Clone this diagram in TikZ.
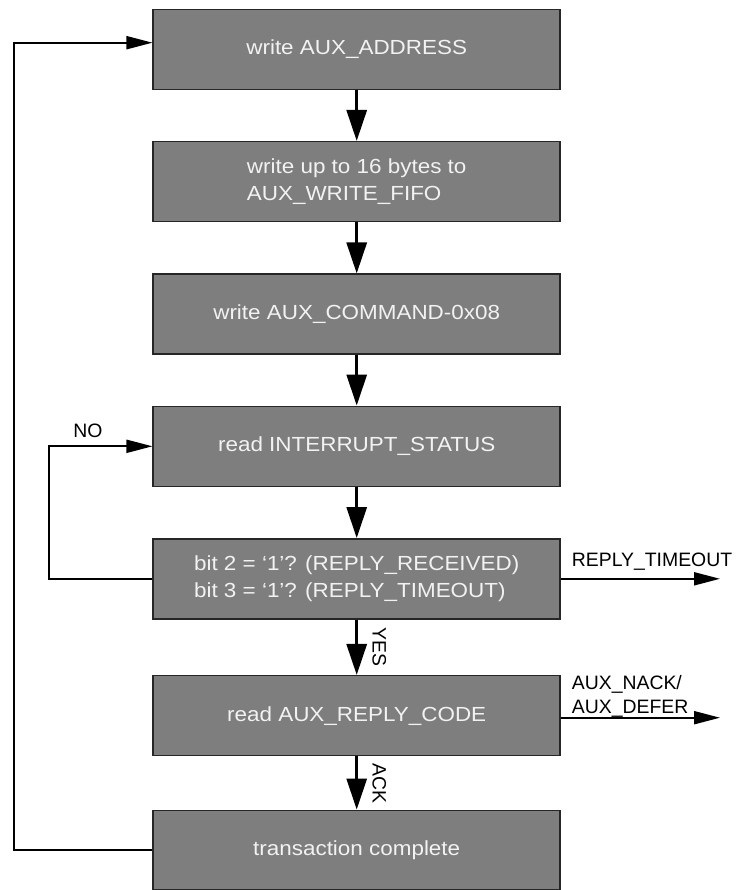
\documentclass[tikz,border=0pt]{standalone}
\usepackage{fontspec}
\setmainfont{Liberation Sans}
\newfontfamily\boxfont[FakeStretch=1.1]{Liberation Sans}
\usetikzlibrary{arrows.meta}
\definecolor{boxgrey}{RGB}{125,126,125}
\definecolor{boxedge}{RGB}{38,38,38}
\definecolor{boxtext}{RGB}{242,242,242}
\begin{document}
\begin{tikzpicture}[x=1pt,y=1pt]
\tikzstyle{every node}+=[inner sep=0pt]
\tikzstyle{stepbox}=[draw=boxedge, fill=boxgrey, line width=1.5pt, minimum width=407pt, minimum height=80pt, text=boxtext, align=left, font=\boxfont\fontsize{20.4}{26.7}\selectfont]
\tikzstyle{lbl}=[font=\fontsize{19.4}{24}\selectfont]
\tikzstyle{flow}=[black, line width=3pt, -{Triangle[length=31pt,width=20pt]}]
\tikzstyle{side}=[black, line width=2pt, -{Triangle[length=26pt,width=13pt]}]
\useasboundingbox (0,0) rectangle (736,-890);
\node [stepbox] (addr) at (356.7,-49.3) {write AUX\_ADDRESS};
\node [stepbox] (fifo) at (356.7,-181.7) {write up to 16 bytes to\\AUX\_WRITE\_FIFO};
\node [stepbox] (cmd) at (356.7,-314.2) {write AUX\_COMMAND-0x08};
\node [stepbox] (irq) at (356.7,-446.3) {read INTERRUPT\_STATUS};
\node [stepbox] (check) at (356.7,-578.8) {bit 2 = ‘1’? (REPLY\_RECEIVED)\\bit 3 = ‘1’? (REPLY\_TIMEOUT)};
\node [stepbox] (reply) at (356.7,-715.7) {read AUX\_REPLY\_CODE};
\node [stepbox, minimum height=79pt] (done) at (356.7,-849.8) {transaction complete};
\draw [flow] (addr) -- (fifo);
\draw [flow] (fifo) -- (cmd);
\draw [flow] (cmd) -- (irq);
\draw [flow] (irq) -- (check);
\draw [flow] (check) -- node [lbl, xshift=22.7pt, rotate=-90] (yes) {YES} (reply);
\draw [flow] (reply) -- node [lbl, xshift=22.7pt, rotate=-90] (ack) {ACK} (done);
\coordinate (outer) at (14.3,-849.8);
\coordinate (inner) at (48.7,-578.8);
\coordinate (tout) at (720,-578.8);
\coordinate (tnak) at (720,-717.7);
\draw [side] (done.west) -- (outer) |- ([yshift=6.6pt]addr.west);
\draw [side] (check.west) -- (inner) |- (irq.west);
\draw [side] (check.east) -- (tout);
\draw [side] (reply.east |- tnak) -- (tnak);
\node [lbl] (no) at (87.9,-430.7) {NO};
\node [lbl, anchor=base west] (tolbl) at (571.7,-566.7) {REPLY\_TIMEOUT};
\node [lbl, anchor=base west] (naklbl) at (571.7,-689.3) {AUX\_NACK/};
\node [lbl, anchor=base west] (deflbl) at (571.7,-713.3) {AUX\_DEFER};
\end{tikzpicture}
\end{document}
